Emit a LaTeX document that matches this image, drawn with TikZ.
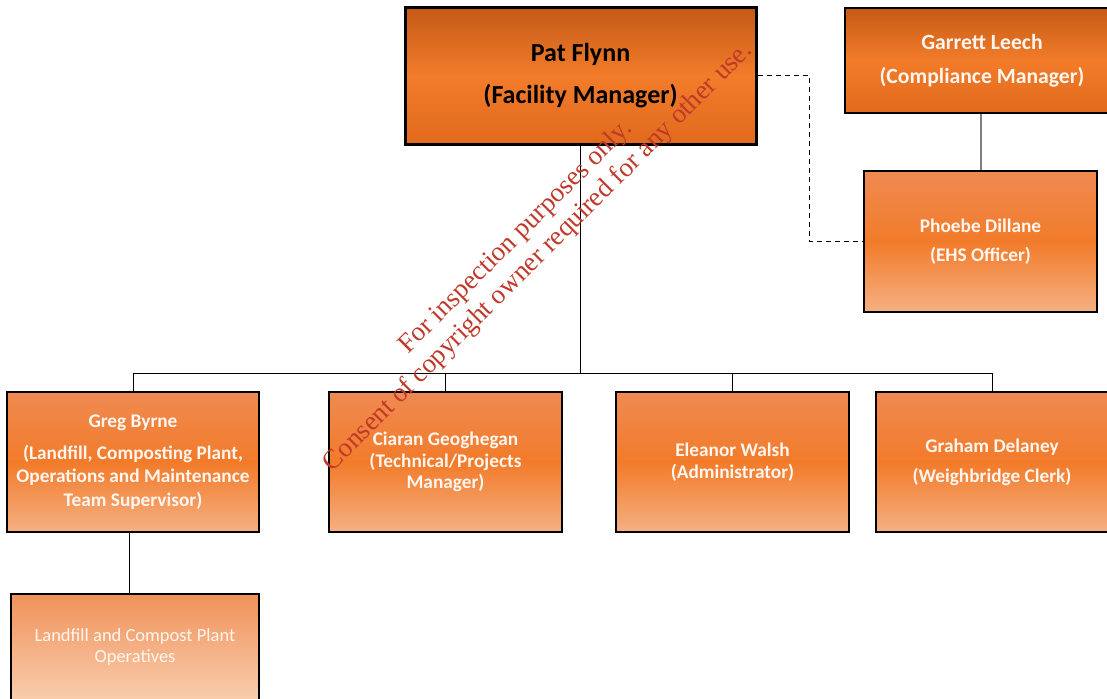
\documentclass[tikz,border=0pt]{standalone}
\usepackage{fontspec}
\setmainfont{Carlito}
\newfontfamily\wmfont{Liberation Serif}
\definecolor{dk1}{HTML}{C55A16}
\definecolor{dk2}{HTML}{F27C2A}
\definecolor{dk3}{HTML}{E16A1D}
\definecolor{lt1}{HTML}{EF8A52}
\definecolor{lt2}{HTML}{F27B2A}
\definecolor{lt3}{HTML}{F5B083}
\definecolor{op1}{HTML}{F0925A}
\definecolor{op3}{HTML}{F9CDAE}
\definecolor{wmred}{HTML}{C0392B}
\definecolor{offwhite}{HTML}{FFF6EF}
\begin{document}
\begin{tikzpicture}[x=1pt,y=-1pt,
  box/.style={draw=black, line width=2.2pt, rectangle, align=center, text=offwhite, inner sep=0pt},
  small/.style={font=\bfseries\fontsize{19.3}{21.7}\selectfont},
  light/.style={top color=lt1, bottom color=lt3, middle color=lt2},
  dark/.style={top color=dk1, bottom color=dk3, middle color=dk2},
  pale/.style={top color=op1, bottom color=op3},
  conn/.style={line width=1pt, black},
  wm/.style={text=wmred, font=\wmfont\fontsize{27}{30}\selectfont, inner sep=0pt, anchor=base, rotate=45}]
\useasboundingbox (0,0) rectangle (1107,698);
\clip (0,0) rectangle (1107,698);

\node[box, dark, line width=3pt, minimum width=351pt, minimum height=136pt, text=black,
      font=\bfseries\fontsize{26}{42}\selectfont] (pat) at (580.5,76) {\raisebox{-2pt}{Pat Flynn}\\\raisebox{-2pt}{(Facility Manager)}};
\node[box, dark, minimum width=274pt, minimum height=105pt,
      font=\bfseries\fontsize{21.7}{34}\selectfont] (garrett) at (982,60.5) {Garrett Leech\\(Compliance Manager)};
\node[box, light, minimum width=233pt, minimum height=141pt,
      font=\bfseries\fontsize{19.3}{29}\selectfont] (phoebe) at (980.5,241.5) {\raisebox{-3pt}{Phoebe Dillane}\\\raisebox{-3pt}{(EHS Officer)}};

\node[box, light, minimum width=252pt, minimum height=140pt,
      font=\bfseries\fontsize{19.3}{23.5}\selectfont] (greg) at (133,462)
      {Greg Byrne\\[8pt](Landfill, Composting Plant,\\Operations and Maintenance\\Team Supervisor)};
\node[box, light, small, minimum width=233pt, minimum height=140pt] (ciaran) at (445.5,462)
      {Ciaran Geoghegan\\(Technical/Projects\\Manager)};
\node[box, light, small, minimum width=233pt, minimum height=140pt] (eleanor) at (732.5,462)
      {Eleanor Walsh\\(Administrator)};
\node[box, light, minimum width=232pt, minimum height=140pt,
      font=\bfseries\fontsize{19.3}{30}\selectfont] (graham) at (992,462)
      {\raisebox{-2pt}{Graham Delaney}\\\raisebox{-2pt}{(Weighbridge Clerk)}};
\node[box, pale, minimum width=248pt, minimum height=106pt,
      font=\fontsize{18.5}{21}\selectfont] (ops) at (135,647)
      {Landfill and Compost Plant\\Operatives};

\coordinate (bus) at (581,373);
\draw[conn] (pat.south) -- (pat.south |- bus);
\draw[conn] (greg.north |- bus) -- (graham.north |- bus);
\foreach \n in {greg,ciaran,eleanor,graham}
  \draw[conn] (\n.north) -- (\n.north |- bus);
\draw[conn] ([xshift=-4pt]greg.south) -- ([xshift=-4pt]greg.south |- ops.north);
\draw[gray, line width=2pt] (garrett.south -| phoebe.north) -- (phoebe.north);
\draw[conn, dash pattern=on 5pt off 4pt] (pat.east) -- ++(52,0) |- (phoebe.west);

\node[wm] (wm1) at (520.5,242) {For inspection purposes only.};
\node[wm] (wm2) at (543,262) {Consent of copyright owner required for any other use.};
\end{tikzpicture}
\end{document}
